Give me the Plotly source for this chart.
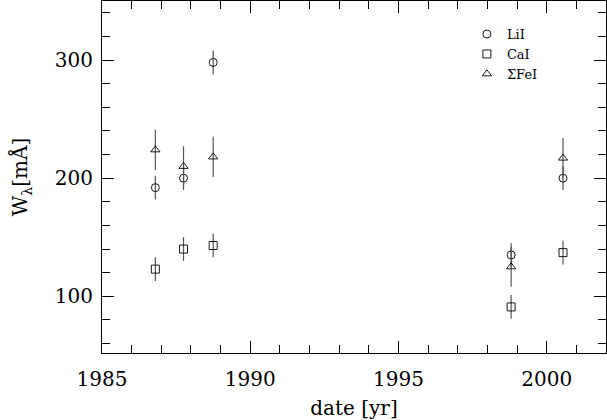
import plotly.graph_objects as go

# data (year, equivalent width in mÅ, error)
li_year = [1986.8, 1987.75, 1988.75, 1998.8, 2000.55]
li_w = [192, 200, 298, 135, 200]
li_err = [10, 10, 10, 10, 10]

ca_year = [1986.8, 1987.75, 1988.75, 1998.8, 2000.55]
ca_w = [123, 140, 143, 91, 137]
ca_err = [10, 10, 10, 10, 10]

fe_year = [1986.8, 1987.75, 1988.75, 1998.8, 2000.55]
fe_w = [224, 210, 218, 125, 217]
fe_err = [17, 17, 17, 17, 17]

names = ["LiI", "CaI", "ΣFeI"]
symbols = ["circle-open", "square-open", "triangle-up-open"]

FONT = "DejaVu Serif"

fig = go.Figure()
for name, sym, xs, ys, es in zip(names, symbols,
                                  [li_year, ca_year, fe_year],
                                  [li_w, ca_w, fe_w],
                                  [li_err, ca_err, fe_err]):
    fig.add_trace(go.Scatter(
        x=xs, y=ys, mode="markers", name=name,
        marker=dict(symbol=sym, size=8, color="black", line=dict(width=0.9, color="black")),
        error_y=dict(type="data", array=es, visible=True, width=0, thickness=1.2, color="#555555"),
    ))

axis_common = dict(
    showline=True, linecolor="black", linewidth=1, mirror="allticks",
    ticks="inside", ticklen=12, tickwidth=1, tickcolor="black",
    showgrid=False, zeroline=False, automargin=False,
    tickfont=dict(family=FONT, size=20, color="black"),
    title_font=dict(family=FONT, size=20, color="black"),
)

fig.update_xaxes(
    range=[1985, 2002], tickmode="array", tickvals=[1985, 1990, 1995, 2000],
    minor=dict(dtick=1, tick0=1985, ticklen=8, ticks="inside", tickcolor="black", showgrid=False),
    title_text="date [yr]", title_standoff=11, ticklabelstandoff=8, **axis_common,
)
fig.update_yaxes(
    range=[52, 350], tickmode="array", tickvals=[100, 200, 300],
    minor=dict(dtick=20, tick0=0, ticklen=8, ticks="inside", tickcolor="black", showgrid=False),
    title_text="W<sub>λ</sub>[mÅ]", title_standoff=21, ticklabelstandoff=4, **axis_common,
)

fig.update_layout(
    width=607, height=420,
    margin=dict(l=102, r=1, t=1, b=67),
    plot_bgcolor="white", paper_bgcolor="white",
    showlegend=True,
    legend=dict(x=0.724, y=0.9486, xanchor="left", yanchor="top",
                bgcolor="rgba(0,0,0,0)", font=dict(family=FONT, size=13, color="black"),
                tracegroupgap=0, itemsizing="trace"),
)

fig.write_html(
    "out.html",
    config={"displayModeBar": False},
    post_script="document.body.style.margin='0px';document.body.style.overflow='hidden';",
)
